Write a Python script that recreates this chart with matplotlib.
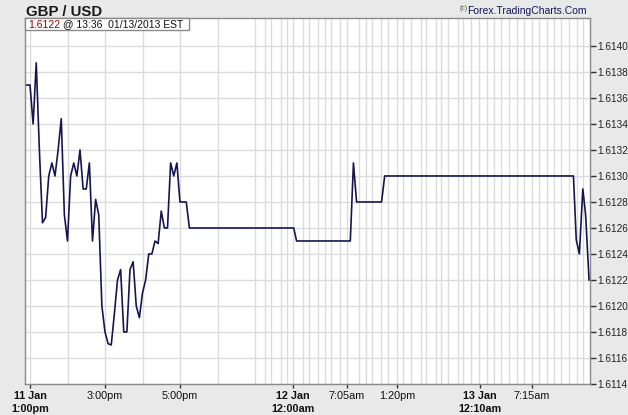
import numpy as np
import matplotlib.pyplot as plt
from matplotlib.patches import Rectangle
from matplotlib.text import Annotation

plt.rcParams['font.family'] = ['Liberation Sans', 'DejaVu Sans']

# bar index (5-min bars, 0 = 11 Jan 1:00pm) and GBP/USD price
bar_idx = [-1, 0, 1, 2, 3, 4, 5, 6, 7, 8, 9, 10, 11, 12, 13, 14, 15, 16, 17, 18,
           19, 20, 21, 22, 23, 24, 25, 26, 27, 28, 29, 30, 31, 32, 33, 34, 35, 36,
           37, 38, 39, 40, 41, 42, 43, 44, 45, 46, 47, 48, 50, 51,
           84.4, 85.3, 102.5, 103.5, 104.5, 112.5, 113.5, 173.9,
           174.8, 175.8, 176.9, 177.8, 178.9]
price = [1.6137, 1.6137, 1.6134, 1.61387, 1.6132, 1.61264, 1.61268, 1.6130, 1.6131,
         1.6130, 1.6132, 1.61344, 1.6127, 1.6125, 1.6130, 1.6131, 1.6130, 1.6132,
         1.6129, 1.6129, 1.6131, 1.6125, 1.61282, 1.6127, 1.6120, 1.6118, 1.61171,
         1.6117, 1.61194, 1.6122, 1.61228, 1.6118, 1.6118, 1.61228, 1.61234, 1.6120,
         1.61191, 1.6121, 1.6122, 1.6124, 1.6124, 1.6125, 1.61248, 1.61273, 1.6126,
         1.6126, 1.6131, 1.6130, 1.6131, 1.6128, 1.6128, 1.6126,
         1.6126, 1.6125, 1.6125, 1.6131, 1.6128, 1.6128, 1.6130, 1.6130,
         1.61251, 1.6124, 1.6129, 1.6127, 1.6122]

# hourly grid lines (bar index)
hour_lines = [0, 12, 24, 36, 48, 60, 72, 75.2, 77.1, 80.3, 82.2, 84.2, 87.4, 89.3,
              92.2, 94.4, 96.3, 99.2, 101.4, 105.3, 107.5, 109.4, 112.3, 114.6,
              117.4, 119.4, 121.9, 125.1, 126.7, 129.9, 131.5, 133.8, 137, 138.6,
              141.1, 143.7, 146.2, 148.5, 150.7, 153.3, 155.8, 158.1, 160.6, 162.9,
              165.4, 167.7, 169.9, 172.5, 175, 177]

tick_pos = [0, 24, 48, 84.2, 101.4, 117.4, 144, 160.6]
tick_lbl = ['11 Jan\n1:00pm', '3:00pm', '5:00pm', '12 Jan\n12:00am',
            '7:05am', '1:20pm', '13 Jan\n12:10am', '7:15am']
tick_bold = [True, False, False, True, False, False, True, False]

y_ticks = np.arange(1.6114, 1.61405, 0.0002)

W, H = 628, 415
fig = plt.figure(figsize=(W / 100, H / 100), dpi=100)
fig.patch.set_facecolor('#e9e9e9')
ax = fig.add_axes([25 / W, (H - 384) / H, 565 / W, 366 / H])
ax.set_facecolor('white')

ax.set_xlim(-1.6, 179.2)
ax.set_ylim(1.6114, 1.614215)

for x in hour_lines:
    ax.axvline(x, color='#dcdcdc', lw=1, zorder=1)
for y in y_ticks:
    ax.axhline(y, color='#dcdcdc', lw=1, zorder=1)

ax.plot(bar_idx, price, color='#16164f', lw=1.2, zorder=3)

for s in ax.spines.values():
    s.set_color('#8a8a8a')
    s.set_linewidth(1)

ax.yaxis.tick_right()
ax.set_yticks(y_ticks)
ax.set_yticklabels([f'{v:.4f}' for v in y_ticks])
ax.tick_params(axis='y', direction='out', length=4, width=1, color='#333333',
               labelsize=7.2, labelcolor='#222222', pad=1)

ax.set_xticks(tick_pos)
ax.set_xticklabels(tick_lbl)
ax.tick_params(axis='x', direction='out', length=3, width=1, color='#333333',
               labelsize=7.8, labelcolor='#111111', pad=2)
for lbl, b in zip(ax.get_xticklabels(), tick_bold):
    lbl.set_fontweight('bold' if b else 'normal')
    lbl.set_linespacing(1.4)

# title and copyright
fig.text(26 / W, 1 - 11.5 / H, 'GBP / USD', fontsize=10.8, fontweight='bold',
         color='#1a1a1a', va='center', ha='left')
cr = fig.text(587 / W, 1 - 11 / H, 'Forex.TradingCharts.Com', fontsize=7.5,
              color='#14145a', va='center', ha='right')
fig.add_artist(Annotation('(c)', xy=(0, 0.75), xycoords=cr, fontsize=5,
                          color='#555555', va='center', ha='right'))

# last quote box
fig.add_artist(Rectangle((25 / W, 1 - 30 / H), 164 / W, 12 / H,
                         transform=fig.transFigure, facecolor='white',
                         edgecolor='#8a8a8a', lw=1, zorder=5))
t1 = fig.text(28 / W, 1 - 24.5 / H, '1.6122', fontsize=7.5, color='#9a0000',
              va='center', ha='left', zorder=6)
fig.add_artist(Annotation(' @ 13:36  01/13/2013 EST', xy=(1, 0.5), xycoords=t1,
                          fontsize=7.5, color='#111111', va='center', ha='left',
                          zorder=6))

fig.savefig('out.png', dpi=100, facecolor=fig.get_facecolor())
